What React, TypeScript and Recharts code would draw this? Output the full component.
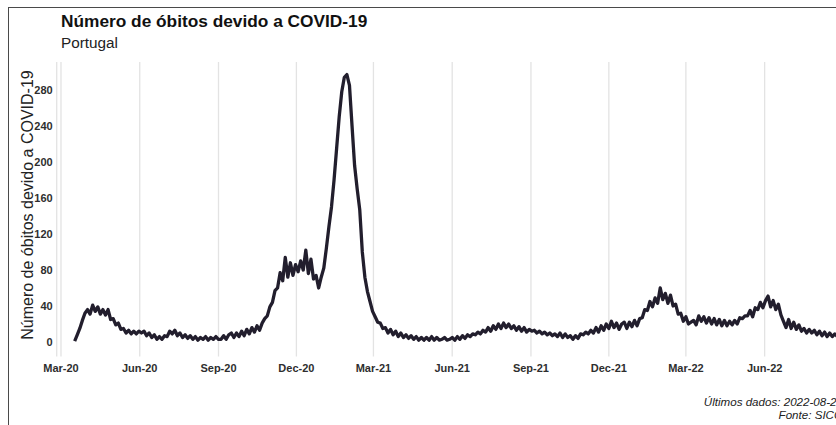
import React from 'react';
import { LineChart, Line, XAxis, YAxis, CartesianGrid } from 'recharts';

const FIRST_DATE = '2020-03-17';
const STEP_DAYS = 3;

const mar20toMay20 = [1, 8, 15, 24, 32, 36, 31, 41, 34, 39, 31, 36, 30, 36, 25, 26, 19, 21, 14, 15, 10, 13, 9, 12, 9, 12];
const jun20toAug20 = [10, 12, 7, 10, 5, 8, 3, 6, 3, 7, 6, 12, 9, 13, 7, 10, 5, 8, 4, 7, 3, 6, 2, 5, 3, 6, 2, 5, 3, 6, 3];
const sep20toNov20 = [3, 7, 3, 8, 10, 5, 10, 6, 12, 7, 14, 9, 16, 11, 18, 13, 21, 26, 29, 39, 44, 57, 60, 77, 68, 94, 72, 88, 74, 86];
const dec20toFeb21 = [78, 90, 80, 102, 76, 92, 70, 74, 60, 72, 82, 104, 128, 150, 180, 215, 250, 278, 294, 297, 285, 240, 196, 170, 147, 100, 72, 56, 45, 34];
const mar21toMay21 = [28, 22, 21, 15, 16, 10, 14, 8, 12, 6, 10, 5, 8, 4, 7, 3, 6, 2, 5, 2, 5, 2, 6, 2, 5, 2, 3, 5, 2, 3, 5];
const jun21toAug21 = [2, 6, 3, 7, 4, 8, 6, 9, 8, 11, 9, 13, 11, 16, 12, 18, 14, 20, 15, 21, 16, 20, 15, 18, 13, 17, 12, 16, 11, 14];
const sep21toNov21 = [12, 13, 10, 12, 9, 11, 8, 10, 7, 9, 6, 10, 5, 9, 5, 7, 3, 7, 4, 9, 8, 11, 9, 13, 10, 16, 11, 18, 13, 20, 15];
const dec21toFeb22 = [23, 16, 21, 14, 20, 22, 15, 22, 17, 24, 18, 26, 27, 36, 35, 45, 39, 49, 43, 60, 47, 54, 43, 52, 40, 42, 31, 32, 23, 28];
const mar22toMay22 = [20, 22, 24, 19, 29, 23, 28, 21, 27, 20, 26, 19, 25, 18, 24, 18, 23, 19, 24, 20, 27, 26, 29, 29, 35, 28, 38, 36, 44, 38];
const jun22toAug22 = [46, 51, 39, 46, 36, 42, 30, 23, 16, 25, 15, 22, 14, 19, 12, 15, 10, 14, 10, 13, 8, 12, 7, 11, 6, 10, 6, 9, 6];

const tickDates = ['2020-03-01', '2020-06-01', '2020-09-01', '2020-12-01', '2021-03-01', '2021-06-01', '2021-09-01', '2021-12-01', '2022-03-01', '2022-06-01'];
const tickLabels = ['Mar-20', 'Jun-20', 'Sep-20', 'Dec-20', 'Mar-21', 'Jun-21', 'Sep-21', 'Dec-21', 'Mar-22', 'Jun-22'];
const yTicks = [0, 40, 80, 120, 160, 200, 240, 280];

const TITLE = 'Número de óbitos devido a COVID-19';
const SUBTITLE = 'Portugal';
const Y_LABEL = 'Número de óbitos devido a COVID-19';
const CAPTION1 = 'Últimos dados: 2022-08-25';
const CAPTION2 = 'Fonte: SICO';

const ORIGIN = Date.UTC(2020, 2, 1);
const dayIndex = (s: string) => Math.round((Date.parse(s + 'T00:00:00Z') - ORIGIN) / 86400000);

const allValues = [
  ...mar20toMay20, ...jun20toAug20, ...sep20toNov20, ...dec20toFeb21, ...mar21toMay21,
  ...jun21toAug21, ...sep21toNov21, ...dec21toFeb22, ...mar22toMay22, ...jun22toAug22,
];
const firstDay = dayIndex(FIRST_DATE);
const data = allValues.map((v, i) => ({ day: firstDay + i * STEP_DAYS, obitos: v }));
const tickDays = tickDates.map(dayIndex);

const FONT = '"Liberation Sans", Arial, Helvetica, sans-serif';

export default function App() {
  return (
    <div style={{ position: 'fixed', left: 0, top: 0, width: 836, height: 425, overflow: 'hidden', background: '#fff', fontFamily: FONT }}>
      <div style={{ position: 'absolute', left: 8, top: 7, width: 900, height: 440, border: '1px solid #4a4a4a', boxSizing: 'content-box' }}>
        <LineChart width={880} height={420} data={data} margin={{ top: 54, right: 31.9, bottom: 41.6, left: 0 }}>
          <CartesianGrid horizontal={false} vertical stroke="#e3e3e3" strokeWidth={1.3} />
          <XAxis
            dataKey="day"
            type="number"
            domain={[-5, 930]}
            ticks={tickDays}
            tickFormatter={(d: number) => tickLabels[tickDays.indexOf(d)] ?? ''}
            axisLine={false}
            tickLine={false}
            tickSize={0}
            tickMargin={7.6}
            height={30}
            interval={0}
            tick={{ fontSize: 11, fontWeight: 'bold', fill: '#2e2e2e', fontFamily: FONT }}
          />
          <YAxis
            type="number"
            domain={[-16, 311]}
            ticks={yTicks}
            allowDataOverflow
            axisLine={false}
            tickLine={false}
            tickSize={0}
            tickMargin={4}
            width={47.7}
            interval={0}
            tick={{ fontSize: 11, fontWeight: 'bold', fill: '#2e2e2e', fontFamily: FONT }}
          />
          <Line
            type="linear"
            dataKey="obitos"
            stroke="#221e2d"
            strokeWidth={3.3}
            strokeLinejoin="round"
            dot={false}
            activeDot={false}
            isAnimationActive={false}
          />
        </LineChart>
        <svg width={900} height={440} style={{ position: 'absolute', left: -9, top: -8, pointerEvents: 'none' }}>
          <text x={61} y={27.4} fontSize={17.3} fontWeight="bold" fill="#111" fontFamily={FONT}>{TITLE}</text>
          <text x={61} y={47.5} fontSize={15.3} fill="#222" fontFamily={FONT}>{SUBTITLE}</text>
          <text x={32.5} y={205} fontSize={16} fill="#222" fontFamily={FONT} textAnchor="middle" transform="rotate(-90, 32.5, 205)">{Y_LABEL}</text>
          <text x={843} y={405.5} fontSize={11.6} fontStyle="italic" fill="#222" fontFamily={FONT} textAnchor="end">{CAPTION1}</text>
          <text x={843} y={419} fontSize={11.6} fontStyle="italic" fill="#222" fontFamily={FONT} textAnchor="end">{CAPTION2}</text>
        </svg>
      </div>
    </div>
  );
}
